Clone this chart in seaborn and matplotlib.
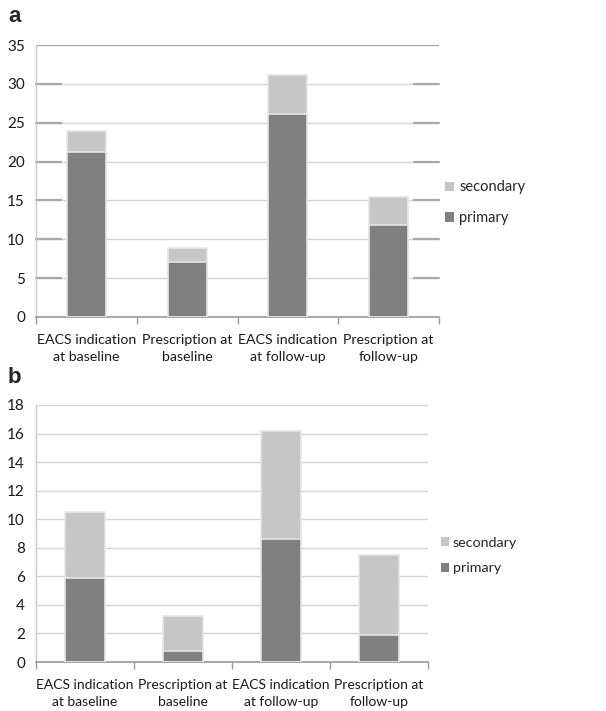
import matplotlib
matplotlib.use("Agg")
import matplotlib.pyplot as plt
import seaborn as sns
import pandas as pd
from matplotlib.patches import Patch

categories = ["EACS indication\nat baseline", "Prescription at\nbaseline",
              "EACS indication\nat follow-up", "Prescription at\nfollow-up"]
a_primary = [21.2, 7.1, 26.1, 11.9]
a_secondary = [2.7, 1.8, 5.1, 3.6]
b_primary = [5.9, 0.8, 8.6, 1.9]
b_secondary = [4.6, 2.4, 7.6, 5.6]

sns.set_theme(style="white")
plt.rcParams['font.family'] = ['Lato', 'DejaVu Sans']

C_PRI = "#808080"
C_SEC = "#c6c6c6"
EDGE = "#e6e6e6"

fig = plt.figure(figsize=(6.06, 7.11), dpi=100)
W, H = 606, 711
axa = fig.add_axes([36 / W, 1 - 317 / H, (439 - 36) / W, (317 - 45) / H])
axb = fig.add_axes([36 / W, 1 - 662 / H, (428 - 36) / W, (662 - 405) / H])

def draw(ax, pri, sec, ymax, step, width, dark_grid, xfs):
    df = pd.DataFrame({"cat": categories, "pri": pri,
                       "tot": [p + s for p, s in zip(pri, sec)]})
    sns.barplot(data=df, x="cat", y="tot", color=C_SEC, ax=ax, width=width,
                edgecolor=EDGE, linewidth=1.2, saturation=1, zorder=3)
    sns.barplot(data=df, x="cat", y="pri", color=C_PRI, ax=ax, width=width,
                edgecolor=EDGE, linewidth=1.2, saturation=1, zorder=4)
    ax.set_xlim(-0.5, 3.5)
    ax.set_ylim(0, ymax)
    ax.set_yticks(range(0, ymax + 1, step))
    ax.set_xlabel("")
    ax.set_ylabel("")
    ax.yaxis.grid(True, color="#d4d4d4", linewidth=1.0, zorder=0)
    if dark_grid:
        for t in range(step, ymax, step):
            ax.plot([-0.5, -0.25], [t, t], color="#a8a8a8", lw=1.6, zorder=1,
                    clip_on=False)
            ax.plot([3.25, 3.5], [t, t], color="#a8a8a8", lw=1.6, zorder=1,
                    clip_on=False)
        ax.axhline(ymax, color="#a8a8a8", lw=1.6, zorder=1)
    for s in ["top", "right"]:
        ax.spines[s].set_visible(False)
    ax.spines["left"].set_color("#c8c8c8")
    ax.spines["bottom"].set_color("#9a9a9a")
    ax.spines["left"].set_linewidth(1.0)
    ax.spines["bottom"].set_linewidth(1.2)
    ax.set_xticks([-0.5, 0.5, 1.5, 2.5, 3.5], minor=True)
    ax.tick_params(axis="x", which="major", length=0, labelsize=xfs,
                   labelcolor="#1a1a1a", pad=12)
    for lab in ax.get_xticklabels():
        lab.set_linespacing(1.5)
    ax.tick_params(axis="x", which="minor", length=5, color="#9a9a9a",
                   width=1.0, direction="out", bottom=True)
    ax.tick_params(axis="y", length=0, labelsize=11, labelcolor="#1a1a1a", pad=8)
    handles = [Patch(facecolor=C_SEC, edgecolor="none", label="secondary"),
               Patch(facecolor=C_PRI, edgecolor="none", label="primary")]
    return handles

h = draw(axa, a_primary, a_secondary, 35, 5, 0.385, True, 10.2)
axa.legend(handles=h, loc="center left", bbox_to_anchor=(1.0, 0.42),
           frameon=False, fontsize=10.5, handlelength=0.6, handleheight=0.6,
           handletextpad=0.4, labelspacing=1.15, borderaxespad=0.2,
           borderpad=0.2)
h = draw(axb, b_primary, b_secondary, 18, 2, 0.4, False, 10)
axb.legend(handles=h, loc="center left", bbox_to_anchor=(1.0, 0.415),
           frameon=False, fontsize=10.3, handlelength=0.6, handleheight=0.6,
           handletextpad=0.25, labelspacing=0.95, borderaxespad=0.6,
           borderpad=0.3)

fig.text(8 / W, 1 - 16 / H, "a", fontsize=16, fontweight="bold",
         va="center", ha="left", family=["Liberation Sans", "DejaVu Sans"])
fig.text(8 / W, 1 - 378 / H, "b", fontsize=16, fontweight="bold",
         va="center", ha="left", family=["Liberation Sans", "DejaVu Sans"])

fig.savefig("out.png", dpi=100, facecolor="white")
